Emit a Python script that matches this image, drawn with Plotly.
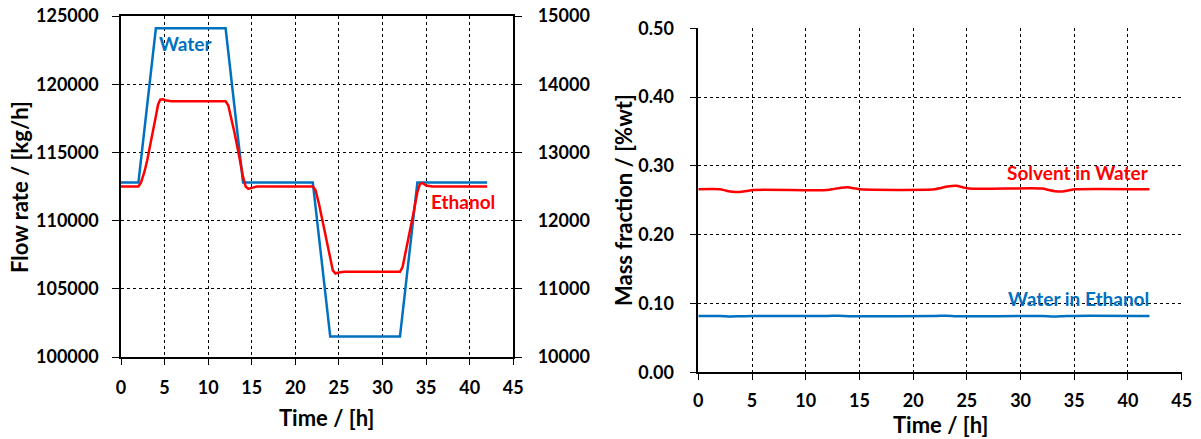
import plotly.graph_objects as go

# ---- Flow rates (left panel) ----
time_water = [0, 2, 4, 12, 14, 22, 24, 32, 34, 42]
water_flow = [112800, 112800, 124100, 124100, 112800, 112800, 101500, 101500, 112800, 112800]

time_eth = [0, 2, 2.3, 2.7, 3, 3.5, 4, 4.25, 4.5, 4.8, 5.2, 5.8,
            12, 12.3, 12.7, 13, 13.5, 14, 14.3, 14.6, 15, 15.6,
            22, 22.3, 22.7, 23, 23.5, 24, 24.3, 24.6, 25, 25.6,
            32, 32.3, 32.7, 33, 33.5, 34, 34.3, 34.6, 35, 35.7, 42]
ethanol_flow = [12500, 12500, 12560, 12720, 12880, 13180, 13530, 13700, 13775, 13780, 13760, 13750,
                13750, 13690, 13480, 13300, 12980, 12640, 12500, 12465, 12480, 12500,
                12500, 12450, 12250, 12060, 11750, 11420, 11270, 11225, 11240, 11250,
                11250, 11320, 11560, 11750, 12080, 12420, 12540, 12550, 12515, 12500, 12500]

# ---- Mass fractions (right panel) ----
time_sw = [0, 2, 2.6, 3.2, 3.8, 4.5, 5.1, 12, 12.6, 13.2, 13.9, 14.5, 15.1,
           22, 22.6, 23.2, 24.0, 24.6, 25.2, 32, 32.6, 33.2, 33.9, 34.5, 35.1, 42]
solvent_in_water = [0.266, 0.266, 0.2640, 0.2625, 0.2620, 0.2635, 0.2650, 0.2650, 0.2665,
                    0.2680, 0.2690, 0.2675, 0.2660, 0.2660, 0.2680, 0.2700, 0.2710, 0.2690,
                    0.2670, 0.2670, 0.2650, 0.2632, 0.2628, 0.2645, 0.2660, 0.2660]

time_we = [0, 2, 3, 4, 5, 12, 13, 14, 15, 22, 23, 24, 25, 32, 33, 34, 35, 42]
water_in_ethanol = [0.0818, 0.0818, 0.0812, 0.0815, 0.0818, 0.0818, 0.0822, 0.0816, 0.0814,
                    0.0818, 0.0823, 0.0816, 0.0813, 0.0818, 0.0811, 0.0815, 0.0820, 0.0818]

flow_left_ticks = [100000, 105000, 110000, 115000, 120000, 125000]
flow_right_ticks = [10000, 11000, 12000, 13000, 14000, 15000]
frac_ticks = [0.0, 0.1, 0.2, 0.3, 0.4, 0.5]
frac_labels = ["0.00", "0.10", "0.20", "0.30", "0.40", "0.50"]
time_ticks = list(range(0, 50, 5))

BLUE = "#0070C0"
RED = "#FF0000"
FONT = "Lato"
W, H = 1201, 439


def px(x):
    return x / W


def py(y):
    return 1 - y / H


tick_font = dict(family=FONT, size=18, color="black", weight="bold")
title_font = dict(family=FONT, size=22, color="black", weight="bold")

fig = go.Figure()

fig.add_trace(go.Scatter(x=time_water, y=water_flow, mode="lines",
                         line=dict(color=BLUE, width=2.5), xaxis="x", yaxis="y",
                         showlegend=False))
fig.add_trace(go.Scatter(x=time_eth, y=ethanol_flow, mode="lines",
                         line=dict(color=RED, width=2.5),
                         xaxis="x", yaxis="y2", showlegend=False))
fig.add_trace(go.Scatter(x=time_sw, y=solvent_in_water, mode="lines",
                         line=dict(color=RED, width=2.5, shape="spline", smoothing=0.8),
                         xaxis="x2", yaxis="y3", showlegend=False))
fig.add_trace(go.Scatter(x=time_we, y=water_in_ethanol, mode="lines",
                         line=dict(color=BLUE, width=2.5, shape="spline", smoothing=0.8),
                         xaxis="x2", yaxis="y3", showlegend=False))

grid = dict(showgrid=True, gridcolor="black", gridwidth=1, griddash="3px,3px",
            zeroline=False, automargin=False)

left_x = [px(121), px(513.3)]
left_y = [py(357), py(16)]
right_x = [px(698.3), px(1181.7)]
right_y = [py(372.3), py(28.3)]

fig.update_layout(
    width=W, height=H,
    margin=dict(l=0, r=0, t=0, b=0),
    paper_bgcolor="white", plot_bgcolor="white",
    xaxis=dict(domain=left_x, range=[0, 45], tickvals=time_ticks, anchor="y",
               showline=True, linecolor="black", linewidth=1.5, mirror=True,
               ticks="outside", ticklen=6, tickcolor="black", tickfont=tick_font,
               ticklabelstandoff=8, **grid),
    yaxis=dict(domain=left_y, range=[100000, 125000], tickvals=flow_left_ticks,
               ticktext=[str(v) for v in flow_left_ticks], anchor="x",
               showline=True, linecolor="black", linewidth=1.5,
               ticks="outside", ticklen=7, tickcolor="black", tickfont=tick_font,
               ticklabelstandoff=10, **grid),
    yaxis2=dict(domain=left_y, range=[10000, 15000], tickvals=flow_right_ticks,
                ticktext=[str(v) for v in flow_right_ticks],
                overlaying="y", side="right", anchor="x",
                showline=True, linecolor="black", linewidth=1.5,
                ticks="outside", ticklen=7, tickcolor="black", tickfont=tick_font,
                ticklabelstandoff=12, showgrid=False, zeroline=False, automargin=False),
    xaxis2=dict(domain=right_x, range=[0, 45], tickvals=time_ticks, anchor="y3",
                showline=True, linecolor="black", linewidth=1.5,
                ticks="outside", ticklen=6, tickcolor="black", tickfont=tick_font,
                ticklabelstandoff=5, **grid),
    yaxis3=dict(domain=right_y, range=[0, 0.5], tickvals=frac_ticks, ticktext=frac_labels,
                anchor="x2", showline=True, linecolor="black", linewidth=1.5,
                ticks="outside", ticklen=7, tickcolor="black", tickfont=tick_font,
                ticklabelstandoff=12, **grid),
)

annotations = [
    # axis titles
    dict(text="Time / [h]", x=px(327), y=py(417), font=title_font),
    dict(text="Flow rate / [kg/h]", x=px(19), y=py(187), textangle=-90, font=title_font),
    dict(text="Time / [h]", x=px(940), y=py(424), font=title_font),
    dict(text="Mass fraction / [%wt]", x=px(623), y=py(200), textangle=-90, font=title_font),
]
for a in annotations:
    a.update(xref="paper", yref="paper", showarrow=False, xanchor="center", yanchor="middle")

# series labels
fig.add_annotation(text="Water", x=7.4, y=py(43), xref="x", yref="paper", showarrow=False,
                   xanchor="center", yanchor="middle",
                   font=dict(family=FONT, size=19, color=BLUE, weight="bold"))
fig.add_annotation(text="Ethanol", x=43.1, y=py(201), xref="x", yref="paper", showarrow=False,
                   xanchor="right", yanchor="middle",
                   font=dict(family=FONT, size=19, color=RED, weight="bold"))
fig.add_annotation(text="Solvent in Water", x=42.1, y=py(172), xref="x2", yref="paper",
                   showarrow=False, xanchor="right", yanchor="middle",
                   font=dict(family=FONT, size=19, color=RED, weight="bold"))
fig.add_annotation(text="Water in Ethanol", x=42.1, y=py(298), xref="x2", yref="paper",
                   showarrow=False, xanchor="right", yanchor="middle",
                   font=dict(family=FONT, size=19, color=BLUE, weight="bold"))

for a in annotations:
    fig.add_annotation(**a)

fig.write_html("out.html")
